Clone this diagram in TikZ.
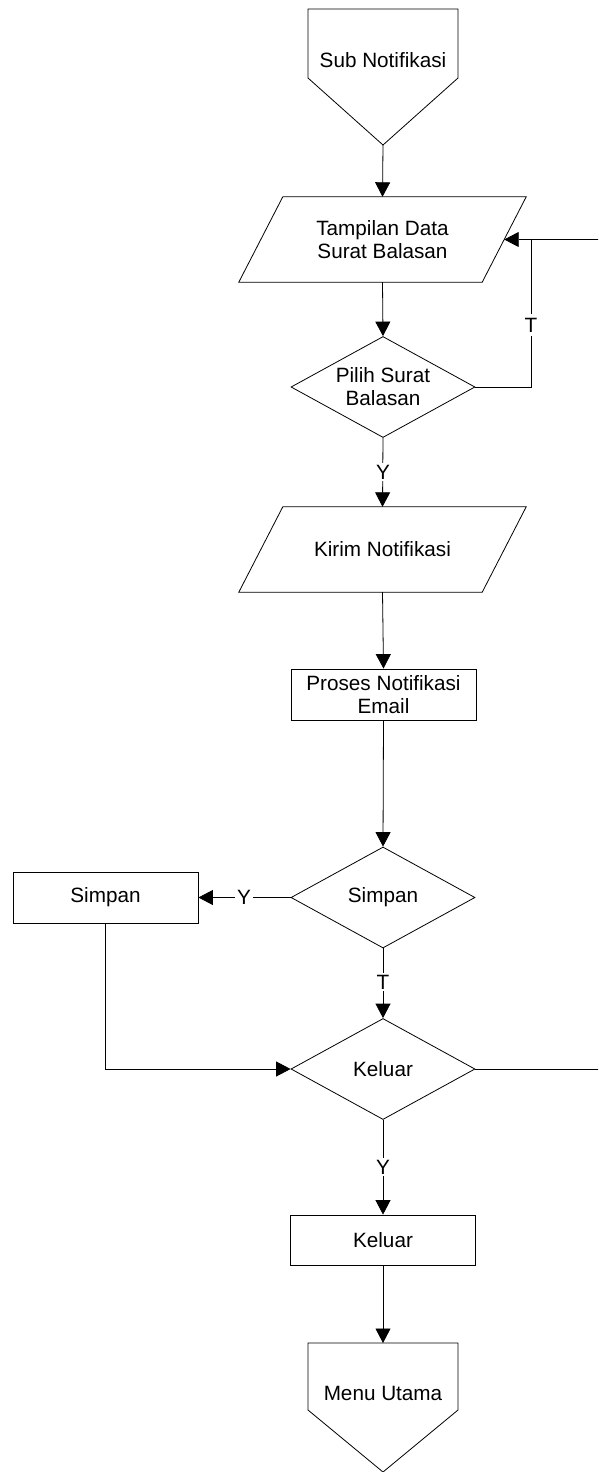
\documentclass[tikz,border=0pt]{standalone}
\usepackage{fontspec}
\setmainfont{Liberation Sans}
\usetikzlibrary{arrows.meta,shapes.geometric}

\tikzset{
  base/.style={font=\fontsize{20.7}{23}\selectfont, align=center, inner sep=0pt},
  procbox/.style={base, draw, line width=0.8pt, minimum width=185pt, minimum height=51pt},
  iobox/.style={base, minimum width=243pt, minimum height=85pt},
  decision/.style={base, draw, line width=0.8pt, diamond, aspect=1.84,
    minimum width=184pt, minimum height=101pt},
  plain/.style={base},
  lbl/.style={base, fill=white, inner sep=2pt},
  outline/.style={line width=0.8pt, line join=miter},
  arr/.style={line width=0.8pt, -{Triangle[length=14.5pt,width=15pt]}},
  ln/.style={line width=0.8pt}
}

\begin{document}
\begin{tikzpicture}[x=1pt,y=-1pt]
\useasboundingbox (0,0) rectangle (598,1472);
\clip (0,0) rectangle (598,1472);

% off-page connector at the top
\draw[outline] (308,9) -- (458,9) -- (458,78) -- (383,145) coordinate (subtip) -- (308,78) -- cycle;
\node[plain] (sub) at (383,60) {Sub Notifikasi};

% data display
\node[iobox] (p1) at (382.5,239.5) {Tampilan Data\\Surat Balasan};
\draw[outline] ([xshift=22pt]p1.north west) -- ([xshift=22pt]p1.north east)
  -- ([xshift=-22pt]p1.south east) -- ([xshift=-22pt]p1.south west) -- cycle;

\node[decision] (pilih) at (383,387) {Pilih Surat\\Balasan};

% sending the notification
\node[iobox] (p2) at (382.5,549.5) {Kirim Notifikasi};
\draw[outline] ([xshift=22pt]p2.north west) -- ([xshift=22pt]p2.north east)
  -- ([xshift=-22pt]p2.south east) -- ([xshift=-22pt]p2.south west) -- cycle;

\node[procbox] (proses) at (383.5,694.5) {Proses Notifikasi\\Email};

\node[decision] (dsimpan) at (383,897.5) {Simpan};
\node[procbox] (rsimpan) at (105.5,897.5) {Simpan};

\node[decision] (dkeluar) at (383,1069) {Keluar};
\node[procbox, minimum height=50pt] (rkeluar) at (383,1240) {Keluar};

% off-page connector at the bottom
\draw[outline] (308,1343) -- (458,1343) -- (458,1410) -- (383,1472) -- (308,1410) -- cycle;
\coordinate (menutop) at (383,1343);
\node[plain] (menu) at (383,1393) {Menu Utama};

% connectors
\draw[arr] (subtip) -- (p1.north);
\draw[arr] (p1.south) -- (pilih.north);
\draw[ln] (pilih.east) -- (531,387) coordinate (tcorner) -- (531,239.5) coordinate (tjoin);
\node[lbl, inner sep=4pt] (tlabel) at (531,325) {T};
\draw[arr] (dkeluar.east) -- (640,1069) -- (640,239.5) -- (p1.east);

\draw[arr] (pilih.south) -- (p2.north);
\node[lbl] (ylabel1) at (383,472) {Y};

\draw[arr] (p2.south) -- (proses.north);
\draw[arr] (proses.south) -- (dsimpan.north);

\draw[arr] (dsimpan.west) -- (rsimpan.east);
\node[lbl] (ylabel2) at (244,897.5) {Y};

\draw[arr] (dsimpan.south) -- (dkeluar.north);
\node[lbl] (tlabel2) at (383,982) {T};

\draw[arr] (rsimpan.south) |- (dkeluar.west);

\draw[arr] (dkeluar.south) -- (rkeluar.north);
\node[lbl] (ylabel3) at (383,1167) {Y};

\draw[arr] (rkeluar.south) -- (menutop);
\end{tikzpicture}
\end{document}
